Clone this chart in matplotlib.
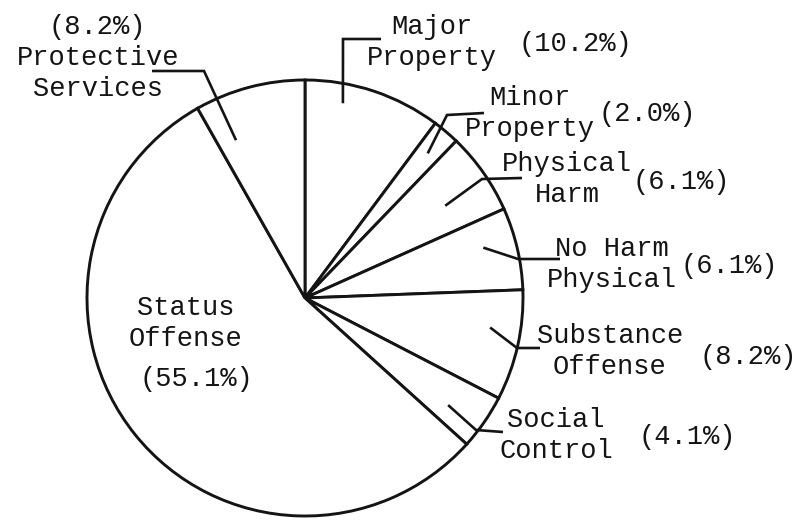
import numpy as np
import matplotlib
matplotlib.use("Agg")
import matplotlib.pyplot as plt

# ---- data ----
categories = ["Major\nProperty", "Minor\nProperty", "Physical\nHarm", "No Harm\nPhysical",
              "Substance\nOffense", "Social\nControl", "Status\nOffense", "Protective\nServices"]
shares = [10.2, 2.0, 6.1, 6.1, 8.2, 4.1, 55.1, 8.2]
pct_labels = ["({:.1f}%)".format(v) for v in shares]

# ---- layout (pixel space, y down) ----
CX, CY, R = 305, 298, 218
FONT = ["Liberation Mono", "DejaVu Sans Mono"]
FS = 19.5
PITCH = 31
INK = "#141414"

# name block: (center x, first-line baseline)
name_pos = [(432, 34), (530, 105), (567, 171), (612, 256),
            (610, 343), (556, 427), (186, 315), (98, 65)]
# percent label: (center x, baseline)
pct_pos = [(575, 51), (647, 121), (681, 189), (729, 273),
           (748, 364), (687, 444), (196, 386), (97, 34)]
# leader: (fraction across wedge, radius fraction, elbow point, end point) or None
leaders = [
    (0.30, 0.91, (343, 39), (381, 39)),
    (0.50, 0.87, (447, 115), (484, 113)),
    (0.58, 0.77, (482, 179), (522, 178)),
    (0.38, 0.85, (518, 259), (560, 259)),
    (0.38, 0.86, (517, 348), (540, 348)),
    (0.64, 0.82, (476, 430), (503, 432)),
    None,
    (0.20, 0.79, (204, 71), (152, 71)),
]

fig = plt.figure(figsize=(8.11, 5.21), dpi=100)
ax = fig.add_axes([0, 0, 1, 1])
wedges, _ = ax.pie(shares, startangle=-90, counterclock=True, center=(CX, CY), radius=R,
                   wedgeprops=dict(facecolor="white", edgecolor=INK, linewidth=2.1))
ax.set_xlim(0, 811)
ax.set_ylim(521, 0)
ax.set_aspect("auto")
ax.axis("off")

cum = np.concatenate([[0], np.cumsum(shares)])
for i, (name, pct) in enumerate(zip(categories, pct_labels)):
    lines = name.split("\n")
    nx, ny = name_pos[i]
    for j, ln in enumerate(lines):
        ax.text(nx, ny + j * PITCH, ln, ha="center", va="baseline",
                family=FONT, fontsize=FS, color=INK)
    px, py = pct_pos[i]
    ax.text(px, py, pct, ha="center", va="baseline", family=FONT, fontsize=FS, color=INK)
    ld = leaders[i]
    if ld is not None:
        f, rf, elbow, end = ld
        theta = np.deg2rad(-90 + 360 * (cum[i] + f * shares[i]) / 100.0)
        ix = CX + rf * R * np.cos(theta)
        iy = CY + rf * R * np.sin(theta)
        ax.plot([ix, elbow[0], end[0]], [iy, elbow[1], end[1]], color=INK, lw=1.9,
                solid_capstyle="butt", solid_joinstyle="miter")

fig.savefig("out.png", dpi=100, facecolor="white")
